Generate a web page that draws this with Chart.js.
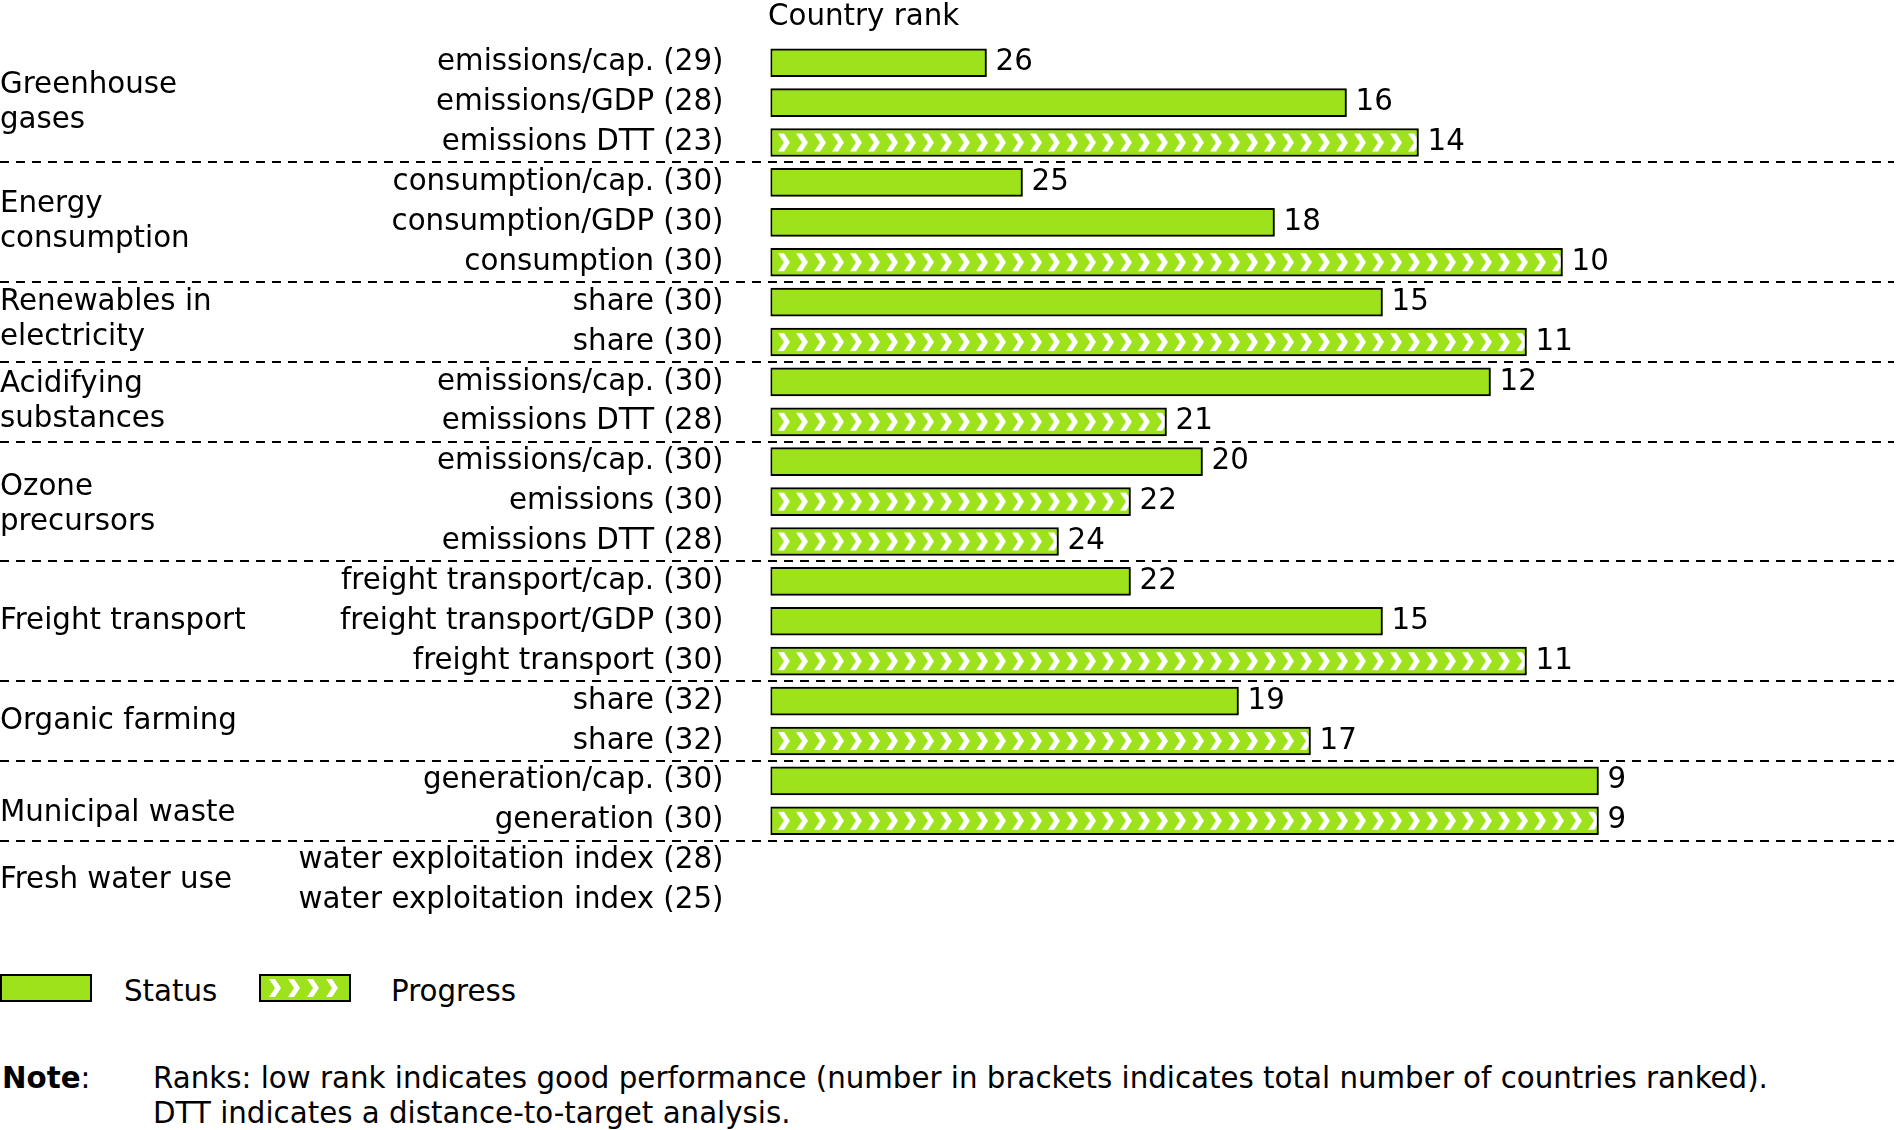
<!DOCTYPE html>
<html>
<head>
<meta charset="utf-8">
<title>Country rank</title>
<script src="https://cdn.jsdelivr.net/npm/chart.js@4.4.1/dist/chart.umd.min.js"></script>
<style>
  body { margin: 0; background: #fff; }
  #wrap { position: relative; width: 1898px; height: 1130px; font-family: "DejaVu Sans", Verdana, sans-serif; font-size: 29.3px; color: #000; }
  #chartBox { position: absolute; left: 0; top: 0; width: 1898px; height: 940px; }
  .swatch { position: absolute; top: 974px; width: 92px; height: 28px; box-sizing: border-box; border: 2px solid #000; background: #9ee21c; }
  .txt { position: absolute; line-height: 34px; white-space: nowrap; }
  .note { line-height: 35px; top: 1061px; }
</style>
</head>
<body>
<div id="wrap">
  <div id="chartBox"><canvas id="rankChart"></canvas></div>
  <div class="swatch" style="left:0"></div>
  <div class="txt" style="left:124px; top:974px">Status</div>
  <canvas id="progressSwatch" width="92" height="28" style="position:absolute; left:259px; top:974px"></canvas>
  <div class="txt" style="left:391px; top:974px">Progress</div>
  <div class="txt note" style="left:2px"><b>Note</b>:</div>
  <div class="txt note" style="left:153px">Ranks: low rank indicates good performance (number in brackets indicates total number of countries ranked).<br>DTT indicates a distance-to-target analysis.</div>
</div>
<script>
// Rows, top to bottom
const rowLabels = [
  'emissions/cap. (29)', 'emissions/GDP (28)', 'emissions DTT (23)',
  'consumption/cap. (30)', 'consumption/GDP (30)', 'consumption (30)',
  'share (30)', 'share (30)',
  'emissions/cap. (30)', 'emissions DTT (28)',
  'emissions/cap. (30)', 'emissions (30)', 'emissions DTT (28)',
  'freight transport/cap. (30)', 'freight transport/GDP (30)', 'freight transport (30)',
  'share (32)', 'share (32)',
  'generation/cap. (30)', 'generation (30)',
  'water exploitation index (28)', 'water exploitation index (25)'
];
const statusRanks = [26, 16, null, 25, 18, null, 15, null, 12, null, 20, null, null, 22, 15, null, 19, null, 9, null, null, null];
const progressRanks = [null, null, 14, null, null, 10, null, 11, null, 21, null, 22, 24, null, null, 11, null, 17, null, 9, null, null];

const groupLabels = [
  ['Greenhouse', 'gases'], ['Energy', 'consumption'], ['Renewables in', 'electricity'],
  ['Acidifying', 'substances'], ['Ozone', 'precursors'], ['Freight transport'],
  ['Organic farming'], ['Municipal waste'], ['Fresh water use']
];
const groupRows = [3, 3, 2, 2, 3, 3, 2, 2, 2];

const worstRank = 32;   // bars start here (left edge)
const bestRank = 1;
const axisTitle = 'Country rank';

const barGreen = '#9ee21c';
const fontFamily = '"DejaVu Sans", Verdana, sans-serif';
const fontSize = 29.3;
// small vertical nudges of the group names (px), as in the original
const groupNudge = [0, 0, -2, 0, 3, 0, 0, 13, 0];

// white ">" chevron, 12 wide and 18 tall
function drawChevron(c, x, top) {
  c.beginPath();
  c.moveTo(x, top);
  c.lineTo(x + 6, top);
  c.lineTo(x + 12, top + 9);
  c.lineTo(x + 6, top + 18);
  c.lineTo(x, top + 18);
  c.lineTo(x + 6, top + 9);
  c.closePath();
  c.fill();
}

function chevronPattern(c) {
  const chart = c.chart;
  if (!chart.chartArea || c.dataIndex === undefined) return barGreen;
  const tile = document.createElement('canvas');
  tile.width = 18;
  tile.height = 28;
  const t = tile.getContext('2d');
  t.fillStyle = barGreen;
  t.fillRect(0, 0, 18, 28);
  t.fillStyle = '#fff';
  drawChevron(t, 0, 5);
  const pat = chart.ctx.createPattern(tile, 'repeat');
  const y = chart.scales.y.getPixelForValue(c.dataIndex);
  pat.setTransform(new DOMMatrix().translate(chart.chartArea.left + 7.5, y - 14));
  return pat;
}

// group names, dashed separators, rank numbers and title
const rankDecor = {
  id: 'rankDecor',
  afterDraw(chart) {
    const ctx = chart.ctx;
    const y = chart.scales.y;
    ctx.save();
    ctx.fillStyle = '#000';
    ctx.strokeStyle = '#000';
    ctx.font = fontSize + 'px ' + fontFamily;
    ctx.textAlign = 'left';
    ctx.textBaseline = 'alphabetic';
    ctx.fillText(axisTitle, chart.chartArea.left - 2.5, 25);

    ctx.textBaseline = 'middle';
    let first = 0;
    groupLabels.forEach((lines, g) => {
      const last = first + groupRows[g] - 1;
      const mid = (y.getPixelForValue(first) + y.getPixelForValue(last)) / 2 + groupNudge[g];
      lines.forEach((line, k) => {
        ctx.fillText(line, 0, mid + (k - (lines.length - 1) / 2) * 35);
      });
      if (g < groupLabels.length - 1) {
        const sy = Math.round((y.getPixelForValue(last) + y.getPixelForValue(last + 1)) / 2);
        ctx.lineWidth = 2;
        ctx.setLineDash([9, 7]);
        ctx.beginPath();
        ctx.moveTo(0, sy);
        ctx.lineTo(1894, sy);
        ctx.stroke();
        ctx.setLineDash([]);
      }
      first = last + 1;
    });

    // rank number just right of each bar
    chart.data.datasets.forEach((ds, i) => {
      chart.getDatasetMeta(i).data.forEach((bar, j) => {
        const v = ds.data[j];
        if (!v) return;
        ctx.fillText(String(v[1]), Math.max(bar.x, bar.base) + 9, bar.y);
      });
    });
    ctx.restore();
  }
};

const toBars = ranks => ranks.map(r => (r == null ? null : [worstRank, r]));

new Chart(document.getElementById('rankChart'), {
  type: 'bar',
  data: {
    labels: rowLabels,
    datasets: [
      {
        label: 'Status',
        data: toBars(statusRanks),
        backgroundColor: barGreen,
        borderColor: '#000',
        borderWidth: 2,
        borderSkipped: false,
        barThickness: 28,
        grouped: false
      },
      {
        label: 'Progress',
        data: toBars(progressRanks),
        backgroundColor: chevronPattern,
        borderColor: '#000',
        borderWidth: 2,
        borderSkipped: false,
        barThickness: 28,
        grouped: false
      }
    ]
  },
  options: {
    indexAxis: 'y',
    responsive: true,
    maintainAspectRatio: false,
    animation: false,
    events: [],
    layout: { padding: { left: 0, right: 11.5, top: 42.8, bottom: 19.5 } },
    scales: {
      x: { display: false, reverse: true, min: bestRank, max: worstRank },
      y: {
        // tickLength (not drawn) keeps the labels left of the bars
        grid: { display: false, drawTicks: true, tickLength: 47 },
        border: { display: false },
        ticks: { color: '#000', padding: 0, autoSkip: false, font: { family: fontFamily, size: fontSize } },
        afterFit: axis => { axis.width = 770.5; }
      }
    },
    plugins: { legend: { display: false }, tooltip: { enabled: false } }
  },
  plugins: [rankDecor]
});

// legend swatch for the progress bars
const sw = document.getElementById('progressSwatch').getContext('2d');
sw.fillStyle = barGreen;
sw.fillRect(0, 0, 92, 28);
sw.fillStyle = '#fff';
for (let k = 0; k < 4; k++) drawChevron(sw, 10 + k * 19, 5);
sw.lineWidth = 2;
sw.strokeStyle = '#000';
sw.strokeRect(1, 1, 90, 26);
</script>
</body>
</html>
